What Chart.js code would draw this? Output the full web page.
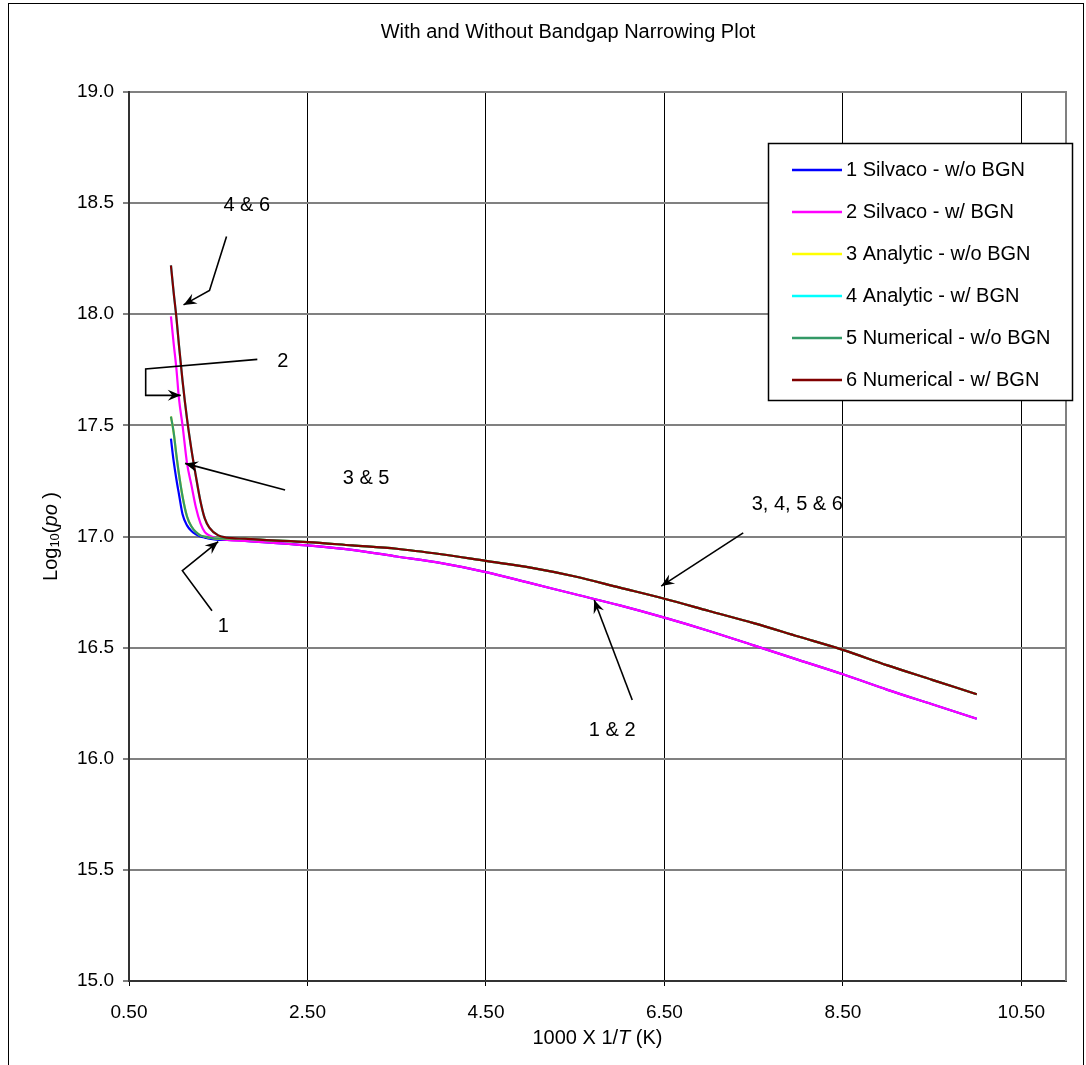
<!DOCTYPE html>
<html>
<head>
<meta charset="utf-8">
<script src="https://cdn.jsdelivr.net/npm/chart.js@4.4.0/dist/chart.umd.min.js"></script>
<style>
  html, body { margin: 0; padding: 0; background: #fff; }
  canvas { display: block; }
</style>
</head>
<body>
<canvas id="bgn-chart" width="1086" height="1065"></canvas>
<script>
// 1000/T values shared by every curve
const xValues = [0.97, 1.0, 1.03, 1.06, 1.1, 1.15, 1.2, 1.25, 1.3, 1.35, 1.4, 1.5, 1.6, 1.8, 2.0, 2.5,
  3.0, 3.5, 4.0, 4.5, 5.0, 5.5, 6.0, 6.5, 7.0, 7.5, 8.0, 8.5, 9.0, 9.5, 10.0];

const silvacoNoBgn = [17.44, 17.34, 17.26, 17.19, 17.10, 17.05, 17.025, 17.01, 17.0, 16.995, 16.99, 16.985, 16.985,
  16.98, 16.975, 16.96, 16.94, 16.91, 16.88, 16.84, 16.79, 16.74, 16.69, 16.635, 16.575, 16.51, 16.445, 16.38, 16.31, 16.245, 16.18];
const silvacoBgn = [17.99, 17.87, 17.76, 17.62, 17.50, 17.33, 17.23, 17.13, 17.06, 17.02, 17.005, 16.99, 16.985,
  16.98, 16.975, 16.96, 16.94, 16.91, 16.88, 16.84, 16.79, 16.74, 16.69, 16.635, 16.575, 16.51, 16.445, 16.38, 16.31, 16.245, 16.18];
const analyticNoBgn = [17.54, 17.47, 17.37, 17.28, 17.18, 17.09, 17.045, 17.02, 17.005, 17.0, 16.995, 16.99, 16.99,
  16.99, 16.985, 16.975, 16.96, 16.945, 16.92, 16.89, 16.86, 16.82, 16.77, 16.72, 16.665, 16.61, 16.55, 16.49, 16.42, 16.355, 16.29];
const analyticBgn = [18.22, 18.10, 17.99, 17.86, 17.70, 17.53, 17.39, 17.27, 17.16, 17.08, 17.04, 17.005, 16.995,
  16.99, 16.985, 16.975, 16.96, 16.945, 16.92, 16.89, 16.86, 16.82, 16.77, 16.72, 16.665, 16.61, 16.55, 16.49, 16.42, 16.355, 16.29];
const numericalNoBgn = [17.54, 17.47, 17.37, 17.28, 17.18, 17.09, 17.045, 17.02, 17.005, 17.0, 16.995, 16.99, 16.99,
  16.99, 16.985, 16.975, 16.96, 16.945, 16.92, 16.89, 16.86, 16.82, 16.77, 16.72, 16.665, 16.61, 16.55, 16.49, 16.42, 16.355, 16.29];
const numericalBgn = [18.22, 18.10, 17.99, 17.86, 17.70, 17.53, 17.39, 17.27, 17.16, 17.08, 17.04, 17.005, 16.995,
  16.99, 16.985, 16.975, 16.96, 16.945, 16.92, 16.89, 16.86, 16.82, 16.77, 16.72, 16.665, 16.61, 16.55, 16.49, 16.42, 16.355, 16.29];

const seriesNames = ["1 Silvaco - w/o BGN", "2 Silvaco - w/ BGN", "3 Analytic - w/o BGN",
  "4 Analytic - w/ BGN", "5 Numerical - w/o BGN", "6 Numerical - w/ BGN"];
const seriesValues = [silvacoNoBgn, silvacoBgn, analyticNoBgn, analyticBgn, numericalNoBgn, numericalBgn];
const seriesColors = ["#0000ff", "#ff00ff", "#ffff00", "#00ffff", "#339966", "#800000"];

const xTicks = [0.5, 2.5, 4.5, 6.5, 8.5, 10.5];
const yTicks = [15.0, 15.5, 16.0, 16.5, 17.0, 17.5, 18.0, 18.5, 19.0];

// callout labels, in data units: text spot and arrow path (last point = arrow tip)
const callouts = [
  { text: "4 & 6", at: [1.82, 18.49], path: [[1.593, 18.35], [1.402, 18.107], [1.111, 18.042]] },
  { text: "2", at: [2.223, 17.786], path: [[1.938, 17.797], [0.687, 17.754], [0.687, 17.635], [1.08, 17.635]] },
  { text: "3 & 5", at: [3.157, 17.263], path: [[2.249, 17.209], [1.128, 17.329]] },
  { text: "1", at: [1.557, 16.594], path: [[1.43, 16.666], [1.098, 16.846], [1.50, 16.977]] },
  { text: "3, 4, 5 & 6", at: [7.989, 17.146], path: [[7.383, 17.016], [6.464, 16.777]] },
  { text: "1 & 2", at: [5.915, 16.129], path: [[6.139, 16.264], [5.713, 16.714]] }
];

const FONT = 'Arial, "Liberation Sans", sans-serif';
const FS = 20;
const TICK_FS = 19;

function drawRuns(c, runs, x, y) {
  let w = 0;
  runs.forEach(r => { c.font = r.font; w += c.measureText(r.t).width; });
  let cx = x - w / 2;
  runs.forEach(r => {
    c.font = r.font;
    c.fillText(r.t, cx, y + (r.dy || 0));
    cx += c.measureText(r.t).width;
  });
}

function arrowHead(c, x0, y0, x1, y1) {
  const ang = Math.atan2(y1 - y0, x1 - x0);
  const len = 13, half = 5.5;
  c.save();
  c.translate(x1, y1);
  c.rotate(ang);
  c.beginPath();
  c.moveTo(0, 0);
  c.lineTo(-len, -half);
  c.lineTo(-len * 0.65, 0);
  c.lineTo(-len, half);
  c.closePath();
  c.fill();
  c.restore();
}

const decor = {
  id: "decor",
  beforeDraw(chart) {
    const c = chart.ctx;
    c.save();
    c.fillStyle = "#fff";
    c.fillRect(0, 0, chart.width, chart.height);
    c.strokeStyle = "#000";
    c.lineWidth = 1;
    c.strokeRect(8.5, 3.5, 1075, 1200);
    c.restore();
  },
  afterDraw(chart) {
    const c = chart.ctx;
    const a = chart.chartArea;
    const xs = chart.scales.x, ys = chart.scales.y;
    c.save();

    // right edge of plot area
    c.strokeStyle = "#808080";
    c.lineWidth = 2;
    c.beginPath();
    c.moveTo(a.right, a.top - 1);
    c.lineTo(a.right, a.bottom);
    c.stroke();

    c.fillStyle = "#000";
    c.textBaseline = "middle";
    c.textAlign = "left";

    // title
    drawRuns(c, [{ t: "With and Without Bandgap Narrowing Plot", font: FS + "px " + FONT }], 568, 32);

    // x axis title
    drawRuns(c, [
      { t: "1000 X 1/", font: FS + "px " + FONT },
      { t: "T", font: "italic " + FS + "px " + FONT },
      { t: " (K)", font: FS + "px " + FONT }
    ], (a.left + a.right) / 2, 1038);

    // y axis title
    c.save();
    c.translate(51, (a.top + a.bottom) / 2);
    c.rotate(-Math.PI / 2);
    drawRuns(c, [
      { t: "Log", font: FS + "px " + FONT },
      { t: "10", font: "13px " + FONT, dy: 4 },
      { t: "(", font: FS + "px " + FONT },
      { t: "po", font: "italic " + FS + "px " + FONT },
      { t: " )", font: FS + "px " + FONT }
    ], 0, 0);
    c.restore();

    // callouts
    c.strokeStyle = "#000";
    c.lineWidth = 1.6;
    callouts.forEach(co => {
      const pts = co.path.map(p => [xs.getPixelForValue(p[0]), ys.getPixelForValue(p[1])]);
      c.beginPath();
      c.moveTo(pts[0][0], pts[0][1]);
      for (let i = 1; i < pts.length; i++) c.lineTo(pts[i][0], pts[i][1]);
      c.stroke();
      const n = pts.length;
      arrowHead(c, pts[n - 2][0], pts[n - 2][1], pts[n - 1][0], pts[n - 1][1]);
      drawRuns(c, [{ t: co.text, font: FS + "px " + FONT }],
        xs.getPixelForValue(co.at[0]), ys.getPixelForValue(co.at[1]));
    });

    // legend box
    const lx = 768, ly = 143, lw = 304, lh = 257;
    c.fillStyle = "#fff";
    c.fillRect(lx, ly, lw, lh);
    c.strokeStyle = "#000";
    c.lineWidth = 1.5;
    c.strokeRect(lx + 0.5, ly + 0.5, lw, lh);
    seriesNames.forEach((name, i) => {
      const ry = 170 + i * 42;
      c.strokeStyle = seriesColors[i];
      c.lineWidth = 2.5;
      c.beginPath();
      c.moveTo(792, ry);
      c.lineTo(842, ry);
      c.stroke();
      c.fillStyle = "#000";
      c.font = FS + "px " + FONT;
      c.textAlign = "left";
      c.fillText(name, 846, ry);
    });

    c.restore();
  }
};

const ctx = document.getElementById("bgn-chart");
new Chart(ctx, {
  type: "scatter",
  data: {
    datasets: seriesValues.map((vals, i) => ({
      label: seriesNames[i],
      data: vals.map((v, k) => ({ x: xValues[k], y: v })),
      showLine: true,
      borderColor: seriesColors[i],
      backgroundColor: seriesColors[i],
      borderWidth: 2.2,
      pointRadius: 0,
      cubicInterpolationMode: "monotone",
      order: 5 - i
    }))
  },
  options: {
    responsive: false,
    animation: false,
    layout: { padding: { left: 0, top: 92, right: 20, bottom: 0 } },
    plugins: {
      legend: { display: false },
      title: { display: false },
      tooltip: { enabled: false }
    },
    scales: {
      x: {
        type: "linear",
        min: 0.5,
        max: 11,
        afterBuildTicks: s => { s.ticks = xTicks.map(v => ({ value: v })); },
        afterFit: s => { s.height = 84; },
        ticks: {
          callback: v => Number(v).toFixed(2),
          font: { family: FONT, size: TICK_FS },
          color: "#000",
          padding: 15,
          maxRotation: 0,
          autoSkip: false
        },
        grid: { color: "#000", lineWidth: 1, tickLength: 5 },
        border: { color: "#333", width: 2 }
      },
      y: {
        min: 15,
        max: 19,
        afterBuildTicks: s => { s.ticks = yTicks.map(v => ({ value: v })); },
        afterFit: s => { s.width = 129; },
        ticks: {
          callback: v => Number(v).toFixed(1),
          font: { family: FONT, size: TICK_FS },
          color: "#000",
          padding: 9
        },
        grid: { color: "#808080", lineWidth: 2, tickLength: 6 },
        border: { color: "#333", width: 2 }
      }
    }
  },
  plugins: [decor]
});
</script>
</body>
</html>
